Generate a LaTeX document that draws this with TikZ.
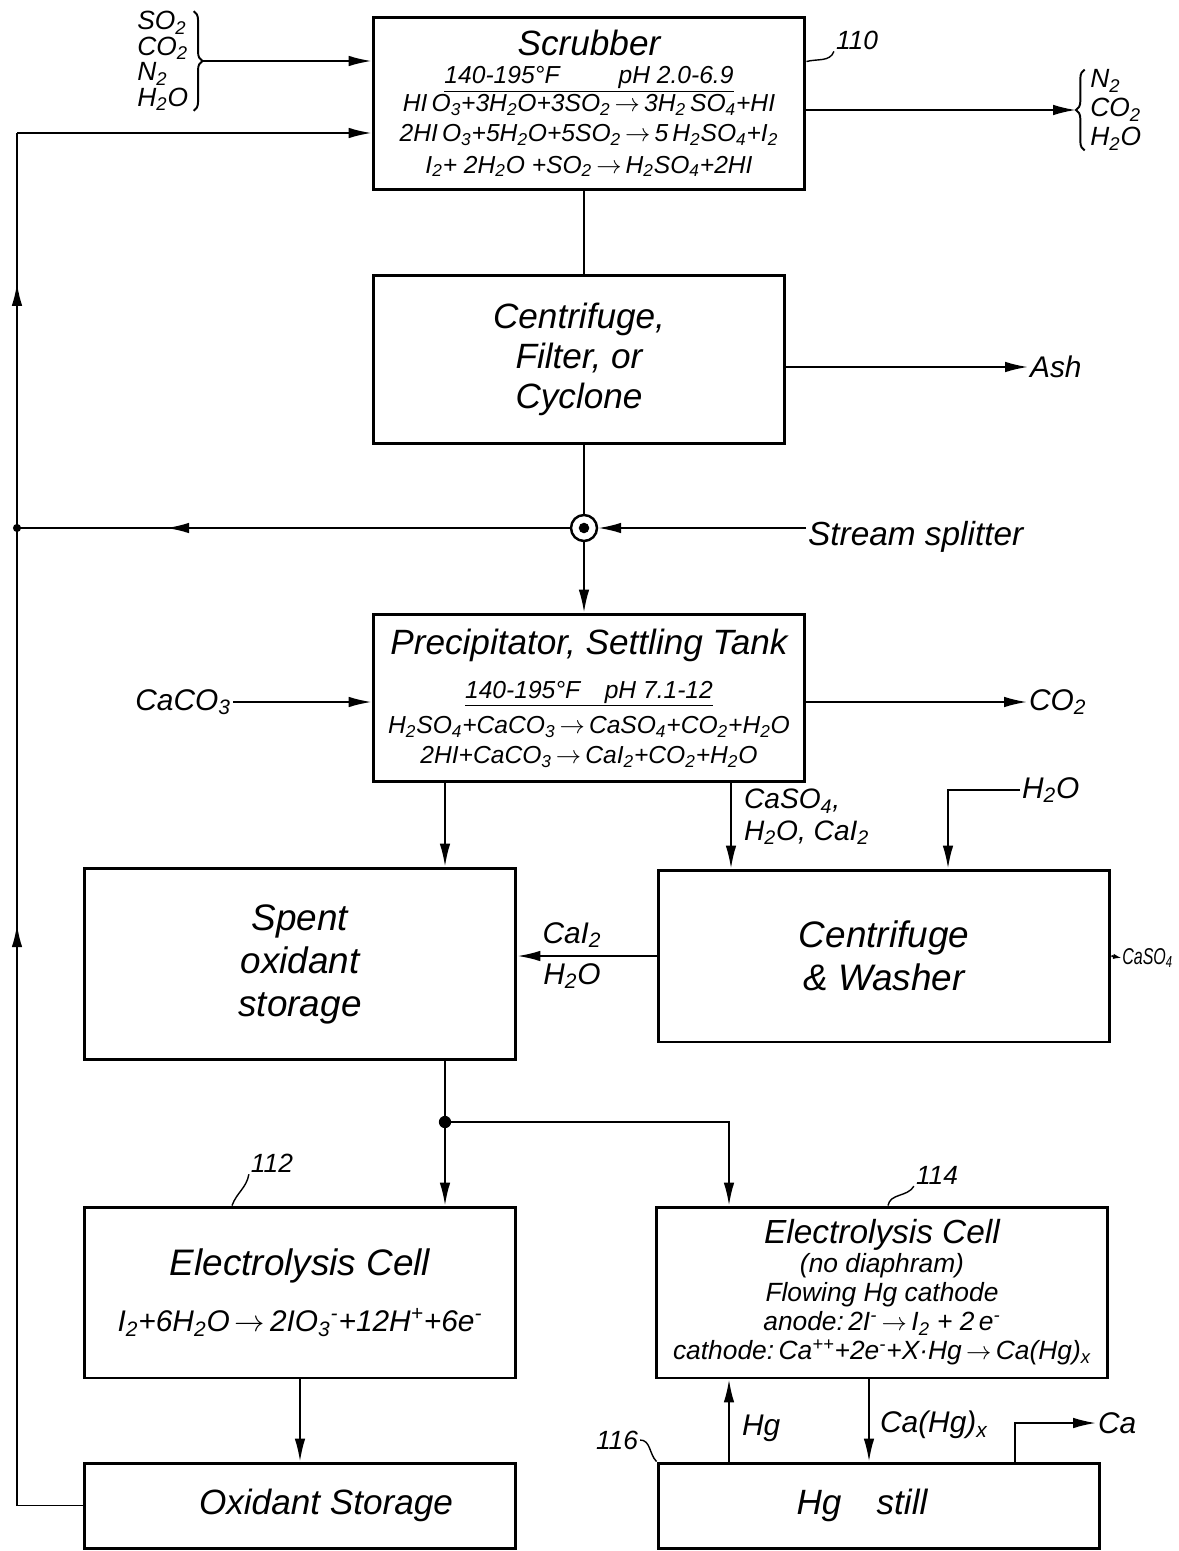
\documentclass[tikz,border=0pt]{standalone}
\usepackage{fontspec}
\setmainfont{Liberation Sans}
\newfontfamily\narrowfont{Liberation Sans}[FakeStretch=0.7]
\usetikzlibrary{arrows.meta,decorations.markings,decorations.pathreplacing,positioning}

\newcommand{\sbs}[1]{\textsubscript{#1}}
\newcommand{\sps}[1]{\textsuperscript{#1}}
\newcommand{\yld}{\,$\rightarrow$\,}

\begin{document}
\begin{tikzpicture}[x=0.02cm,y=-0.02cm,
    >={Latex[length=13pt,width=6pt]},
    every node/.style={font=\itshape},
    unit/.style={draw,line width=1.7pt,align=center,inner sep=0pt},
    flow/.style={line width=1.1pt},
    tag/.style={font=\fontsize{17}{19}\selectfont\itshape,inner sep=1pt},
    refno/.style={font=\fontsize{15}{17}\selectfont\itshape,inner sep=1pt},
    brc/.style={decorate,decoration={brace,amplitude=5pt},line width=1.1pt},
    midarrow/.style={postaction={decorate},decoration={markings,mark=at position #1 with {\arrow{Latex[length=13pt,width=6pt]}}}}
  ]
  \useasboundingbox (0,0) rectangle (1178,1551);

  % process units
  \node[unit,minimum width=8.64cm,minimum height=3.46cm,font=\fontsize{14}{16}\selectfont\itshape] (scrub) at (589,103.5)
    {{\fontsize{20}{24}\selectfont Scrubber}\\
     \underline{140-195°F\hspace{2.4em}pH 2.0-6.9}\\
     HI\,O\sbs3+3H\sbs2O+3SO\sbs2\yld 3H\sbs2\,SO\sbs4+HI\\[1pt]
     2HI\,O\sbs3+5H\sbs2O+5SO\sbs2\yld 5\,H\sbs2SO\sbs4+I\sbs2\\[2pt]
     I\sbs2+ 2H\sbs2O +SO\sbs2\yld H\sbs2SO\sbs4+2HI};
  \node[unit,minimum width=8.24cm,minimum height=3.38cm,font=\fontsize{20}{23}\selectfont\itshape] (cent) at (579,359.5)
    {Centrifuge,\\Filter, or\\Cyclone};
  \node[unit,minimum width=8.64cm,minimum height=3.36cm,font=\fontsize{14}{17}\selectfont\itshape] (precip) at (589,698)
    {{\fontsize{20}{24}\selectfont Precipitator, Settling Tank}\\[8pt]
     \underline{140-195°F\hspace{1em}pH 7.1-12}\\[3pt]
     H\sbs2SO\sbs4+CaCO\sbs3\yld CaSO\sbs4+CO\sbs2+H\sbs2O\\
     2HI+CaCO\sbs3\yld CaI\sbs2+CO\sbs2+H\sbs2O};
  \node[unit,minimum width=8.64cm,minimum height=3.84cm,font=\fontsize{21}{24.5}\selectfont\itshape] (spent) at (300,964)
    {Spent\\oxidant\\storage};
  \node[unit,minimum width=9.04cm,minimum height=3.44cm,font=\fontsize{21}{24.5}\selectfont\itshape] (wash) at (884,956)
    {Centrifuge\\\& Washer};
  \node[unit,minimum width=8.64cm,minimum height=3.42cm,font=\fontsize{17}{19}\selectfont\itshape] (ecA) at (300,1292.5)
    {{\fontsize{21}{25}\selectfont Electrolysis Cell}\\[13pt]
     I\sbs2+6H\sbs2O\yld 2IO\sbs3\sps{-}+12H\sps{+}+6e\sps{-}};
  \node[unit,minimum width=9.04cm,minimum height=3.42cm,font=\fontsize{15}{16.5}\selectfont\itshape] (ecB) at (882,1292.5)
    {{\fontsize{19}{22}\selectfont Electrolysis Cell}\\
     (no diaphram)\\
     Flowing Hg cathode\\
     anode:\,2I\sps{-}\yld I\sbs2 + 2\,e\sps{-}\\
     cathode:\,Ca\sps{++}+2e\sps{-}+X·Hg\yld Ca(Hg)\sbs{x}};
  \node[unit,minimum width=8.64cm,minimum height=1.70cm,font=\fontsize{20}{24}\selectfont\itshape] (oxst) at (300,1505.5)
    {\hspace*{1.04cm}Oxidant Storage};
  \node[unit,minimum width=8.84cm,minimum height=1.70cm,font=\fontsize{20}{24}\selectfont\itshape] (still) at (879,1505.5)
    {Hg\hspace{1em}still\hspace*{0.68cm}};

  % columns of the vertical lines
  \coordinate (colA) at (445,0);
  \coordinate (colB) at (731,0);
  \coordinate (colC) at (948,0);
  \coordinate (colD) at (729,0);
  \coordinate (colE) at (869,0);
  \coordinate (colF) at (1015,0);
  \coordinate (lft) at (17,528);
  \coordinate (ltop) at (17,133);

  % scrubber feed and exhaust
  \node[font=\fontsize{15}{14.5}\selectfont\itshape,align=left,inner sep=0pt,anchor=west] (gasL) at (137,61)
    {SO\sbs2\\CO\sbs2\\N\sbs2\\H\sbs2O};
  \draw[brc] ([xshift=3pt]gasL.north east) -- ([xshift=3pt]gasL.south east);
  \coordinate (gtip) at ([xshift=8pt]gasL.east);
  \draw[flow,->] (gtip) -- (scrub.west |- gtip);
  \node[font=\fontsize{15}{16.5}\selectfont\itshape,align=left,inner sep=0pt,anchor=west] (gasR) at (1090,110)
    {N\sbs2\\CO\sbs2\\H\sbs2O};
  \draw[brc] ([xshift=-3pt]gasR.south west) -- ([xshift=-3pt]gasR.north west);
  \coordinate (rtip) at ([xshift=-8pt]gasR.west);
  \draw[flow,->] (scrub.east |- rtip) -- (rtip);
  \node[refno] (r110) at (857,40) {110};
  \draw[line width=0.8pt] ([yshift=-0.92cm]scrub.north east) to[out=15,in=-110] (r110.south west);

  % scrubber to centrifuge
  \node[circle,draw,line width=1.4pt,minimum size=0.52cm,inner sep=0pt] (split) at (584,528) {};
  \fill (split) circle (3pt);
  \draw[flow] (scrub.south -| split) -- (cent.north -| split);
  \node[tag,anchor=west] (ash) at (1028,367) {Ash};
  \draw[flow,->] (cent.east |- ash) -- (ash.west);
  \draw[flow] (cent.south -| split) -- (split.north);
  \draw[flow,->] (split.south) -- (precip.north -| split);
  \node[tag,anchor=west,font=\fontsize{19}{21}\selectfont\itshape] (sst) at (806,537) {Stream splitter};
  \draw[flow,->] (sst.west |- split) -- (split.east);

  % recycle to scrubber
  \draw[flow,midarrow=0.73] (split.west) -- (lft);
  \fill (lft) circle (2.3pt);
  \draw[flow,midarrow=0.62] (oxst.west) -- (oxst.west -| lft) -- (lft);
  \draw[flow,midarrow=0.62] (lft) -- (ltop);
  \draw[flow,->] (ltop) -- (scrub.west |- ltop);

  % precipitator
  \node[tag,anchor=east] (caco) at (233,702) {CaCO\sbs3};
  \draw[flow,->] (caco.east) -- (precip.west |- caco.east);
  \node[tag,anchor=west] (cotwo) at (1027,702) {CO\sbs2};
  \draw[flow,->] (precip.east |- cotwo) -- (cotwo.west);
  \draw[flow,->] (precip.south -| colA) -- (spent.north -| colA);
  \draw[flow,->] (precip.south -| colB) -- (wash.north -| colB);
  \node[tag,anchor=north west,align=left,font=\fontsize{16}{18}\selectfont\itshape] (mix) at (742,787)
    {CaSO\sbs4,\\H\sbs2O, CaI\sbs2};
  \node[tag,anchor=west] (hto) at (1020,790) {H\sbs2O};
  \draw[flow,->] (hto.west) -- (hto.west -| colC) -- (wash.north -| colC);

  % washer
  \draw[flow,->] (wash.west) -- (spent.east |- wash.west);
  \node[tag] (cai) at (572,935) {CaI\sbs2};
  \node[tag] (htob) at (572,976) {H\sbs2O};
  \node[font=\fontsize{13}{15}\selectfont\narrowfont\itshape,anchor=west,inner sep=0pt] (caso) at (1122,958) {CaSO\sbs4};
  \draw[flow,-{Latex[length=5pt,width=3pt]}] (wash.east) -- (caso.west);

  % to the cells
  \coordinate (junc) at (445,1122);
  \draw[flow] (spent.south -| colA) -- (junc);
  \fill (junc) circle (3.5pt);
  \draw[flow,->] (junc) -- (ecA.north -| colA);
  \draw[flow,->] (junc) -- (junc -| colD) -- (ecB.north -| colD);
  \node[refno] (r112) at (272,1163) {112};
  \draw[line width=0.8pt] ([xshift=-1.36cm]ecA.north) to[out=70,in=-100] (r112.south west);
  \node[refno] (r114) at (937,1175) {114};
  \draw[line width=0.8pt] ([xshift=0.12cm]ecB.north) to[out=80,in=-120] (r114.south west);

  % cells to storage and still
  \draw[flow,->] (ecA.south) -- (oxst.north);
  \draw[flow,->] (still.north -| colD) -- (ecB.south -| colD);
  \node[tag,anchor=west] (hgl) at (740,1428) {Hg};
  \draw[flow,->] (ecB.south -| colE) -- (still.north -| colE);
  \node[tag,anchor=west] (cahg) at (878,1425) {Ca(Hg)\sbs{x}};
  \node[tag,anchor=west] (ca) at (1096,1423) {Ca};
  \draw[flow,->] (still.north -| colF) -- (colF |- ca) -- (ca.west);
  \node[refno] (r116) at (617,1440) {116};
  \draw[line width=0.8pt] (r116.east) to[out=0,in=135] (still.north west);
\end{tikzpicture}
\end{document}
